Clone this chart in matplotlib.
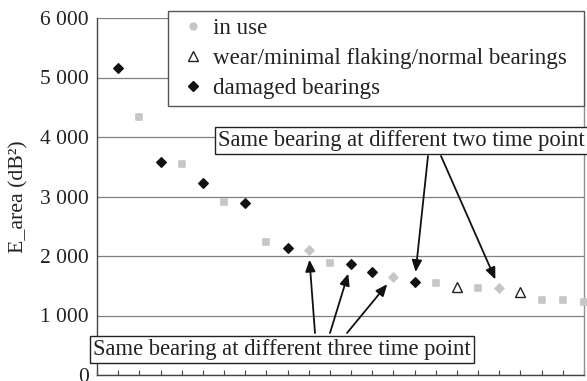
import matplotlib
matplotlib.use("Agg")
import matplotlib.pyplot as plt
from matplotlib.lines import Line2D
from matplotlib.markers import MarkerStyle

plt.rcParams['font.family'] = ['Liberation Serif', 'DejaVu Serif']

# ---- data (x = sample position along the axis) ----
in_use_x = [2, 4, 6, 8, 11, 16, 18, 21, 22, 23]
in_use_y = [4340, 3546, 2913, 2240, 1877, 1541, 1468, 1261, 1261, 1232]
tracked_x = [10, 14, 19]                 # in-use bearings followed over time
tracked_y = [2101, 1652, 1457]
wear_x = [17, 20]
wear_y = [1480, 1400]
damaged_x = [1, 3, 5, 7, 9, 12, 13, 15]
damaged_y = [5160, 3575, 3222, 2896, 2139, 1860, 1726, 1568]

y_ticks = [0, 1000, 2000, 3000, 4000, 5000, 6000]
y_ticklabels = ['0', '1 000', '2 000', '3 000', '4 000', '5 000', '6 000']
legend_labels = ['in use', 'wear/minimal flaking/normal bearings', 'damaged bearings']
ylabel = 'E_area (dB²)'
note_two = 'Same bearing at different two time point'
note_three = 'Same bearing at different three time point'
two_points = [(damaged_x[7], damaged_y[7]), (tracked_x[2], tracked_y[2])]
three_points = [(tracked_x[0], tracked_y[0]), (damaged_x[5], damaged_y[5]),
                (tracked_x[1], tracked_y[1])]

W, H = 587, 381
fig = plt.figure(figsize=(W / 100, H / 100), dpi=100)
ax = fig.add_axes([97 / W, (H - 375) / H, 487 / W, 357 / H])

gray = '#c6c6c6'
rsq = MarkerStyle('s', joinstyle='round')
ax.plot(in_use_x, in_use_y, linestyle='none', marker=rsq, ms=4.2, mew=1.2,
        mfc=gray, mec=gray, clip_on=False, zorder=3)
ax.plot(tracked_x, tracked_y, linestyle='none', marker='D', ms=5.2, mew=0.6,
        mfc=gray, mec=gray, clip_on=False, zorder=3)
ax.plot(wear_x, wear_y, linestyle='none', marker='^', ms=7.8, mew=1.0,
        mfc='white', mec='#222222', clip_on=False, zorder=3)
ax.plot(damaged_x, damaged_y, linestyle='none', marker='D', ms=5.6, mew=0.8,
        mfc='#111111', mec='#111111', clip_on=False, zorder=3)

ax.set_xlim(0, 23)
ax.set_ylim(0, 6000)
ax.set_xticks(range(0, 24))
ax.set_xticklabels([])
ax.tick_params(axis='x', direction='in', length=3.5, width=0.8, color='#444444')
ax.set_yticks(y_ticks)
ax.set_yticklabels(y_ticklabels, fontsize=15.5, color='#222222')
ax.tick_params(axis='y', length=0, pad=6)
ax.yaxis.grid(True, color='#808080', lw=0.9)
ax.set_axisbelow(True)
for s in ['left', 'bottom']:
    ax.spines[s].set_color('#444444')
    ax.spines[s].set_linewidth(1.0)
ax.spines['top'].set_visible(False)
ax.spines['right'].set_color('#909090')
ax.spines['right'].set_linewidth(1.0)

ax.set_ylabel(ylabel, fontsize=15.7, color='#222222')
ax.yaxis.set_label_coords(-0.141, 0.5)

handles = [
    Line2D([], [], linestyle='none', marker='o', ms=5, mfc=gray, mec=gray),
    Line2D([], [], linestyle='none', marker='^', ms=7.8, mfc='white', mec='#222222', mew=1.0),
    Line2D([], [], linestyle='none', marker='D', ms=5.6, mfc='#111111', mec='#111111'),
]
leg = fig.legend(handles, legend_labels, loc='upper left',
                 bbox_to_anchor=(168 / W, 1 - 102 / H, 416 / W, 91 / H),
                 mode='expand', fontsize=16.6, frameon=True, fancybox=False,
                 edgecolor='#555555', framealpha=1, borderpad=0.3,
                 labelspacing=0.38, handlelength=1.55, handletextpad=0.1,
                 borderaxespad=0)
leg.get_frame().set_linewidth(1.0)
for t in leg.get_texts():
    t.set_color('#222222')

box_style = dict(boxstyle='square,pad=0.15', fc='white', ec='#222222', lw=1.0)
fig.text(218 / W, 1 - 140.5 / H, note_two, fontsize=16.3, ha='left', va='center',
         color='#222222', bbox=box_style, zorder=5)
fig.text(93 / W, 1 - 349.5 / H, note_three, fontsize=16.3, ha='left', va='center',
         color='#222222', bbox=box_style, zorder=5)

arrow = dict(arrowstyle='-|>,head_length=0.7,head_width=0.3', color='#111111',
             lw=1.3, shrinkA=0, shrinkB=7)
for (px, py), (dx, dy) in zip([(428, 156), (441, 156)], two_points):
    ax.annotate('', xy=(dx, dy), xycoords='data', xytext=(px, H - py),
                textcoords='figure pixels', arrowprops=arrow, zorder=4,
                annotation_clip=False)
for (px, py), (dx, dy) in zip([(315, 333), (330, 333), (347, 333)], three_points):
    ax.annotate('', xy=(dx, dy), xycoords='data', xytext=(px, H - py),
                textcoords='figure pixels', arrowprops=arrow, zorder=4,
                annotation_clip=False)

fig.savefig('out.png', dpi=100)
